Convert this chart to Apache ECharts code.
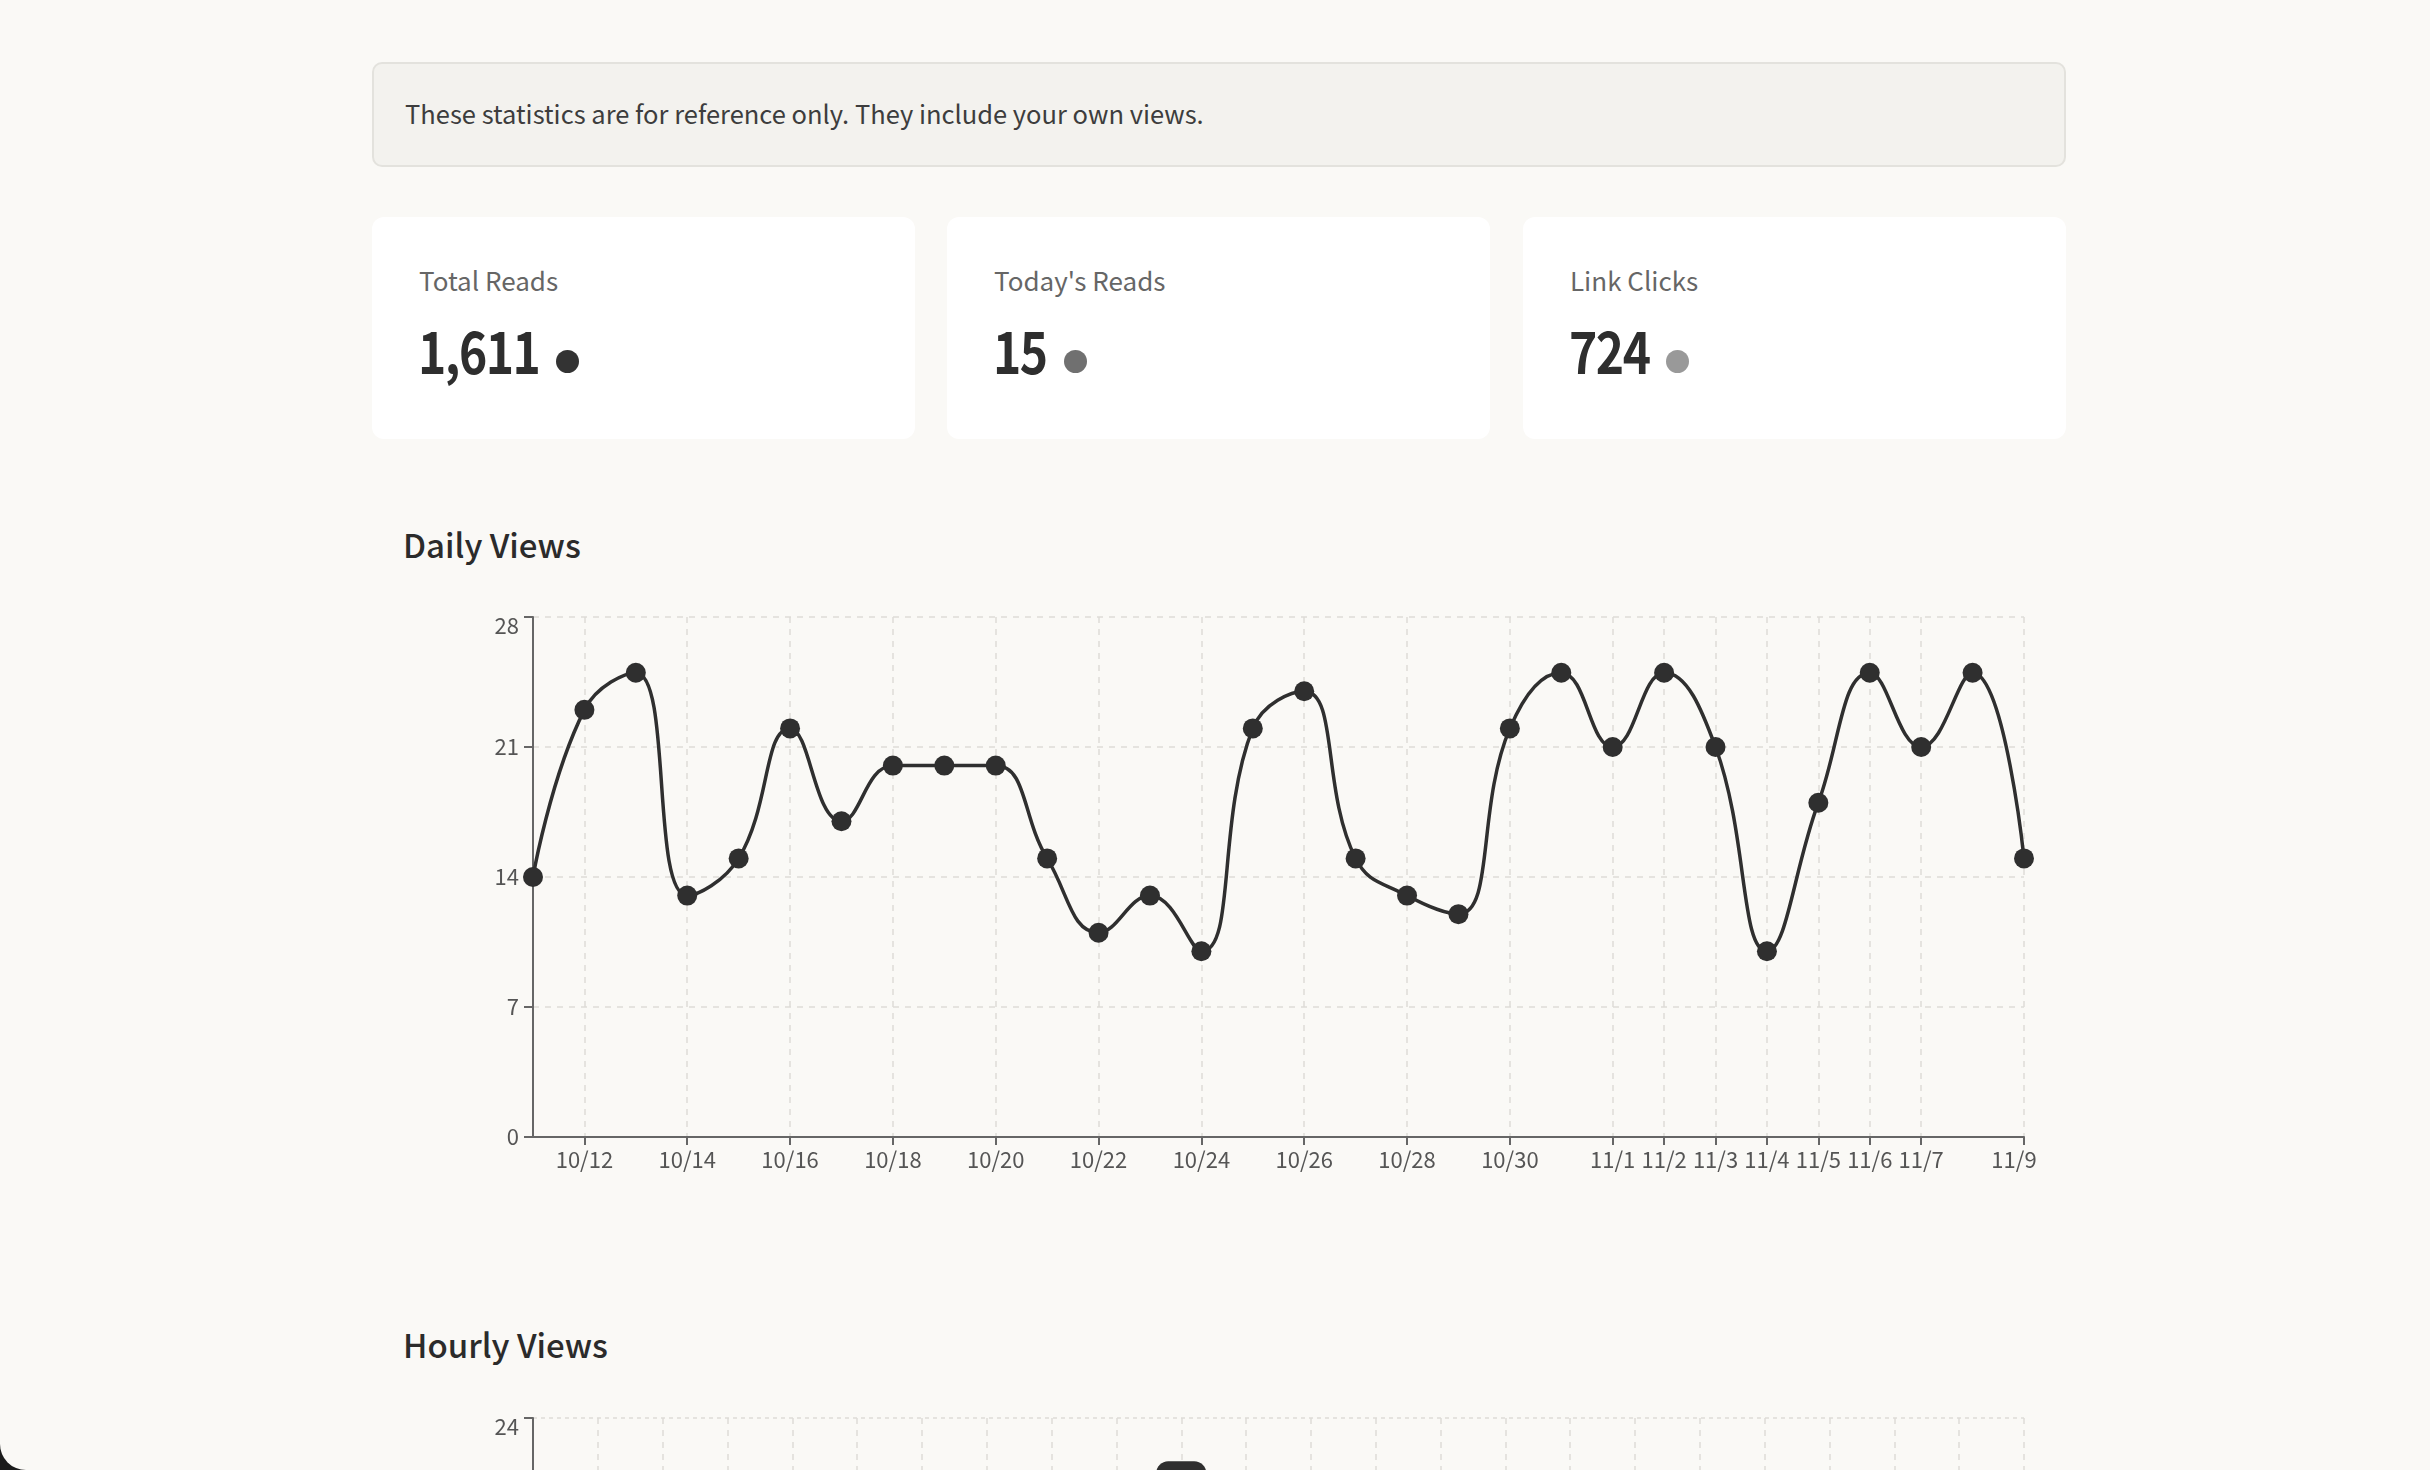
<!DOCTYPE html>
<html>
<head>
<meta charset="utf-8">
<script src="https://cdn.jsdelivr.net/npm/echarts@6/dist/echarts.min.js"></script>
<style>
  html { margin:0; padding:0; background:#1b1b1b; width:2430px; height:1470px; overflow:hidden; }
  body { margin:0; padding:0; width:2430px; height:1470px; background:#faf9f6; position:relative; overflow:hidden;
         border-bottom-left-radius:26px; font-family:"Noto Sans CJK KR","Noto Sans",sans-serif; color:#333; }
  .notice { position:absolute; left:372px; top:62px; width:1694px; height:105px; box-sizing:border-box;
            background:#f3f2ee; border:2px solid #e3e2dd; border-radius:10px; }
  .notice span { position:absolute; left:31px; top:50%; transform:translateY(-57%); font-size:25.5px; color:#3d3d3d; white-space:nowrap; }
  .card { position:absolute; top:217px; width:543px; height:222px; background:#fff; border-radius:12px; }
  .lbl { position:absolute; left:47px; top:44px; font-size:26px; color:#666; white-space:nowrap; }
  .val { position:absolute; left:46px; top:111px; height:48px; line-height:48px; white-space:nowrap; }
  .num { display:inline-block; font-size:48px; line-height:48px; font-weight:700; color:#2e2e2e; letter-spacing:-1.5px;
         transform:scaleY(1.2); transform-origin:left 88%; vertical-align:baseline; }
  .dot { display:inline-block; width:23px; height:23px; border-radius:50%; margin-left:17px; vertical-align:baseline; }
  .h2 { position:absolute; left:403px; font-size:33px; font-weight:500; color:#2b2b2b; white-space:nowrap; }
  #daily { position:absolute; left:372px; top:580px; width:1694px; height:640px; }
  #hourly { position:absolute; left:372px; top:1381px; width:1694px; height:640px; }
</style>
</head>
<body>
<div class="notice"><span>These statistics are for reference only. They include your own views.</span></div>
<div class="card" style="left:372px"><div class="lbl">Total Reads</div><div class="val"><span class="num">1,611</span><span class="dot" style="background:#333"></span></div></div>
<div class="card" style="left:947px"><div class="lbl">Today's Reads</div><div class="val"><span class="num">15</span><span class="dot" style="background:#707070"></span></div></div>
<div class="card" style="left:1523px"><div class="lbl">Link Clicks</div><div class="val"><span class="num">724</span><span class="dot" style="background:#999"></span></div></div>
<div class="h2" style="top:520px">Daily Views</div>
<div id="daily"></div>
<div class="h2" style="top:1320px">Hourly Views</div>
<div id="hourly"></div>
<script>
// ---- data ----
const dailyDates = ['10/11','10/12','10/13','10/14','10/15','10/16','10/17','10/18','10/19','10/20',
  '10/21','10/22','10/23','10/24','10/25','10/26','10/27','10/28','10/29','10/30',
  '10/31','11/1','11/2','11/3','11/4','11/5','11/6','11/7','11/8','11/9'];
const dailyViews = [14,23,25,13,15,22,17,20,20,20,15,11,13,10,22,24,15,13,12,22,25,21,25,21,10,18,25,21,25,15];
const dailyTickLabels = ['10/12','10/14','10/16','10/18','10/20','10/22','10/24','10/26','10/28','10/30',
  '11/1','11/2','11/3','11/4','11/5','11/6','11/7','11/9'];
const dailyYTicks = [0,7,14,21,28];

const hours = ['0','1','2','3','4','5','6','7','8','9','10','11','12','13','14','15','16','17','18','19','20','21','22','23'];
const hourlyViews = [4,3,2,1,1,2,3,6,10,14,22,17,13,12,15,16,14,12,10,9,9,8,6,5];
const hourlyYTicks = [0,6,12,18,24];

const FONT = '"Noto Sans CJK KR","Noto Sans",sans-serif';
const showTick = (i) => dailyTickLabels.includes(dailyDates[i]);

function yLabel(ticks) {
  return {
    color:'#555', fontSize:22, fontFamily:FONT, margin:14,
    formatter:(v)=> v === ticks[ticks.length-1] ? '{top|'+v+'}' : String(v),
    rich:{top:{padding:[18,0,0,0], fontSize:22, fontFamily:FONT, color:'#555'}}
  };
}

const daily = echarts.init(document.getElementById('daily'), null, {renderer:'canvas'});
daily.setOption({
  animation:false,
  grid:{left:161, right:42, top:37, height:520},
  xAxis:{
    type:'category', data:dailyDates, boundaryGap:false,
    axisLine:{lineStyle:{color:'#666', width:2}},
    axisTick:{show:true, interval:showTick, length:8, lineStyle:{color:'#666', width:2}},
    axisLabel:{interval:showTick, color:'#555', fontSize:22, fontFamily:FONT, margin:12,
      formatter:(v)=> v === dailyDates[dailyDates.length-1] ? '{last|'+v+'}' : v,
      rich:{last:{padding:[0,20,0,0], fontSize:22, fontFamily:FONT, color:'#555'}}},
    splitLine:{show:true, interval:showTick, lineStyle:{color:'#dedcd8', type:[6,6], width:1.5}}
  },
  yAxis:{
    type:'value', min:dailyYTicks[0], max:dailyYTicks[dailyYTicks.length-1], interval:dailyYTicks[1]-dailyYTicks[0],
    axisLine:{show:true, lineStyle:{color:'#666', width:2}},
    axisTick:{show:true, length:9, lineStyle:{color:'#666', width:2}},
    axisLabel:yLabel(dailyYTicks),
    splitLine:{show:true, lineStyle:{color:'#dedcd8', type:[6,6], width:1.5}}
  },
  series:[{
    type:'line', data:dailyViews, smooth:0.45,
    symbol:'circle', symbolSize:20, showAllSymbol:true,
    lineStyle:{color:'#2f2f2f', width:3.5},
    itemStyle:{color:'#2f2f2f'}
  }]
});

const hourly = echarts.init(document.getElementById('hourly'), null, {renderer:'canvas'});
hourly.setOption({
  animation:false,
  grid:{left:161, right:42, top:37, height:520},
  xAxis:{
    type:'category', data:hours, boundaryGap:false,
    axisLine:{lineStyle:{color:'#666', width:2}},
    axisTick:{show:true, interval:0, length:8, lineStyle:{color:'#666', width:2}},
    axisLabel:{interval:0, color:'#555', fontSize:22, fontFamily:FONT},
    splitLine:{show:true, interval:0, lineStyle:{color:'#dedcd8', type:[6,6], width:1.5}}
  },
  yAxis:{
    type:'value', min:hourlyYTicks[0], max:hourlyYTicks[hourlyYTicks.length-1], interval:hourlyYTicks[1]-hourlyYTicks[0],
    axisLine:{show:true, lineStyle:{color:'#666', width:2}},
    axisTick:{show:true, length:9, lineStyle:{color:'#666', width:2}},
    axisLabel:yLabel(hourlyYTicks),
    splitLine:{show:true, lineStyle:{color:'#dedcd8', type:[4,4], width:1.5}}
  },
  series:[{
    type:'bar', data:hourlyViews, barWidth:50,
    itemStyle:{color:'#2f2f2f', borderRadius:[12,12,0,0]}
  }]
});
</script>
</body>
</html>
